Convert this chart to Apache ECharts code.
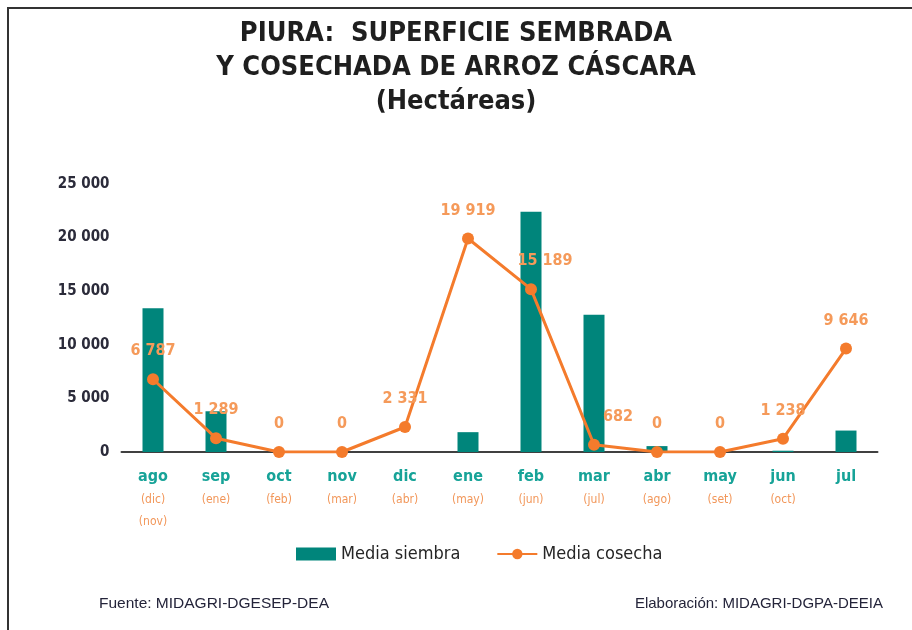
<!DOCTYPE html>
<html>
<head>
<meta charset="utf-8">
<title>Piura arroz cáscara</title>
<script src="https://cdn.jsdelivr.net/npm/echarts@6/dist/echarts.min.js"></script>
<style>
  html, body { margin: 0; padding: 0; background: #fff; }
  #chart { width: 912px; height: 630px; }
</style>
</head>
<body>
<div id="chart"></div>
<script>
// meses de siembra y, debajo, meses de cosecha correspondientes
const meses = ['ago', 'sep', 'oct', 'nov', 'dic', 'ene', 'feb', 'mar', 'abr', 'may', 'jun', 'jul']
const mesesCosecha = [['dic', 'nov'], ['ene'], ['feb'], ['mar'], ['abr'], ['may'], ['jun'], ['jul'], ['ago'], ['set'], ['oct'], []]
const mediaSiembra = [13400, 3800, 0, 0, 0, 1850, 22400, 12800, 550, 0, 120, 2000]
const mediaCosecha = [6787, 1289, 0, 0, 2331, 19919, 15189, 682, 0, 0, 1238, 9646]
const yTicks = [0, 5000, 10000, 15000, 20000, 25000]

const FONT = '"Liberation Sans Narrow", "DejaVu Sans Condensed", sans-serif'
const FONT_FOOT = '"Liberation Sans", Arial, sans-serif'
const TEAL = '#00857b'
const ORANGE = '#f47b2c'

// separador de miles con espacio
function fmt(n) {
  return String(n).replace(/\B(?=(\d{3})+(?!\d))/g, ' ')
}

const chart = echarts.init(document.getElementById('chart'), null, { renderer: 'canvas' })

const option = {
  backgroundColor: '#fff',
  animation: false,
  title: [
    {
      text: 'PIURA:  SUPERFICIE SEMBRADA\nY COSECHADA DE ARROZ CÁSCARA\n(Hectáreas)',
      left: 'center',
      top: 12,
      textStyle: {
        fontFamily: FONT,
        fontSize: 27,
        fontWeight: 'bold',
        color: '#1f1f1f',
        lineHeight: 34
      }
    },
    {
      text: 'Fuente: MIDAGRI-DGESEP-DEA',
      left: 94,
      top: 591,
      textStyle: { fontFamily: FONT_FOOT, fontSize: 15.5, fontWeight: 'normal', color: '#24243a' }
    },
    {
      text: 'Elaboración: MIDAGRI-DGPA-DEEIA',
      right: 24,
      top: 591,
      textStyle: { fontFamily: FONT_FOOT, fontSize: 15, fontWeight: 'normal', color: '#24243a' }
    }
  ],
  graphic: [
    {
      type: 'rect',
      shape: { x: 8, y: 8, width: 940, height: 660 },
      style: { fill: 'none', stroke: '#333', lineWidth: 2 }
    }
  ],
  legend: {
    bottom: 62,
    left: 291,
    itemGap: 36,
    itemWidth: 40,
    itemHeight: 13,
    textStyle: { fontFamily: FONT, fontSize: 18, color: '#262626' },
    data: [
      { name: 'Media siembra', icon: 'rect' },
      { name: 'Media cosecha' }
    ]
  },
  grid: {
    left: 121.5,
    right: 34.5,
    top: 184,
    bottom: 178
  },
  xAxis: {
    type: 'category',
    data: meses,
    axisTick: { show: false },
    axisLine: { lineStyle: { color: '#404040', width: 2 } },
    axisLabel: {
      interval: 0,
      margin: 12,
      formatter: function (v, i) {
        const lines = ['{m|' + v + '}']
        mesesCosecha[i].forEach(function (c) { lines.push('{s|(' + c + ')}') })
        return lines.join('\n')
      },
      rich: {
        m: { fontFamily: FONT, fontSize: 16, fontWeight: 'bold', color: '#17a398', lineHeight: 25 },
        s: { fontFamily: FONT, fontSize: 12, color: '#f2975a', lineHeight: 22 }
      }
    }
  },
  yAxis: {
    type: 'value',
    min: 0,
    max: yTicks[yTicks.length - 1],
    interval: yTicks[1] - yTicks[0],
    splitLine: { show: false },
    axisLine: { show: false },
    axisTick: { show: false },
    axisLabel: {
      margin: 12,
      fontFamily: FONT,
      fontSize: 15,
      fontWeight: 'bold',
      color: '#2b2b3a',
      formatter: fmt
    }
  },
  series: [
    {
      name: 'Media siembra',
      type: 'bar',
      data: mediaSiembra,
      barWidth: 21,
      itemStyle: { color: TEAL }
    },
    {
      name: 'Media cosecha',
      type: 'line',
      data: mediaCosecha.map(function (v, i) {
        // etiquetas desplazadas como en el original
        if (i === 6) return { value: v, label: { offset: [14, 0] } }
        if (i === 7) return { value: v, label: { offset: [24, 0] } }
        return v
      }),
      symbol: 'circle',
      symbolSize: 12,
      lineStyle: { color: ORANGE, width: 3 },
      itemStyle: { color: ORANGE },
      label: {
        show: true,
        position: 'top',
        distance: 14,
        fontFamily: FONT,
        fontSize: 16,
        fontWeight: 'bold',
        color: '#f59a5a',
        formatter: function (p) { return fmt(p.value) }
      }
    }
  ]
}

chart.setOption(option)
</script>
</body>
</html>
